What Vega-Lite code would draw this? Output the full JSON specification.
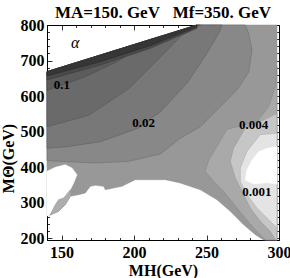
{
  "$schema": "https://vega.github.io/schema/vega-lite/v6.json",
  "width": 232,
  "height": 215,
  "autosize": {"type": "none"},
  "padding": {"left": 47, "top": 25, "right": 11, "bottom": 38},
  "background": "white",
  "title": {"text": "MA=150. GeV\u00a0\u00a0\u00a0Mf=350. GeV", "anchor": "middle", "offset": -5, "font": "Liberation Serif, Times New Roman, serif", "fontSize": 17, "fontWeight": "bold", "color": "black"},
  "datasets": {
    "poly": [
      {"b": "base", "i": 0, "x": 140, "y": 668.7}, {"b": "base", "i": 1, "x": 243.4, "y": 800}, {"b": "base", "i": 2, "x": 298.6, "y": 800}, {"b": "base", "i": 3, "x": 298.6, "y": 195}, {"b": "base", "i": 4, "x": 289.4, "y": 195}, {"b": "base", "i": 5, "x": 283.7, "y": 210.0}, {"b": "base", "i": 6, "x": 275.6, "y": 238.1}, {"b": "base", "i": 7, "x": 266.4, "y": 275.6}, {"b": "base", "i": 8, "x": 257.2, "y": 308.5}, {"b": "base", "i": 9, "x": 245.7, "y": 336.6}, {"b": "base", "i": 10, "x": 231.9, "y": 355.4}, {"b": "base", "i": 11, "x": 221.6, "y": 364.8}, {"b": "base", "i": 12, "x": 200.9, "y": 364.8}, {"b": "base", "i": 13, "x": 191.7, "y": 346.0}, {"b": "base", "i": 14, "x": 180.2, "y": 336.6}, {"b": "base", "i": 15, "x": 179.1, "y": 346.0}, {"b": "base", "i": 16, "x": 173.3, "y": 348.8}, {"b": "base", "i": 17, "x": 169.9, "y": 346.0}, {"b": "base", "i": 18, "x": 166.4, "y": 327.3}, {"b": "base", "i": 19, "x": 161.8, "y": 322.6}, {"b": "base", "i": 20, "x": 156.1, "y": 317.9}, {"b": "base", "i": 21, "x": 152.6, "y": 294.4}, {"b": "base", "i": 22, "x": 148.0, "y": 275.6}, {"b": "base", "i": 23, "x": 142.3, "y": 265.3}, {"b": "base", "i": 24, "x": 140, "y": 265},
      {"b": "notch", "i": 0, "x": 140, "y": 388.2}, {"b": "notch", "i": 1, "x": 145.7, "y": 399.5}, {"b": "notch", "i": 2, "x": 152.6, "y": 407.0}, {"b": "notch", "i": 3, "x": 157.2, "y": 397.6}, {"b": "notch", "i": 4, "x": 160.7, "y": 378.8}, {"b": "notch", "i": 5, "x": 158.4, "y": 355.4}, {"b": "notch", "i": 6, "x": 156.1, "y": 336.6}, {"b": "notch", "i": 7, "x": 151.5, "y": 313.2}, {"b": "notch", "i": 8, "x": 148.0, "y": 308.5}, {"b": "notch", "i": 9, "x": 145.7, "y": 294.4}, {"b": "notch", "i": 10, "x": 143.4, "y": 275.6}, {"b": "notch", "i": 11, "x": 142.3, "y": 268.2}, {"b": "notch", "i": 12, "x": 140, "y": 262},
      {"b": "patch", "i": 0, "x": 142.3, "y": 268.2}, {"b": "patch", "i": 1, "x": 143.4, "y": 275.6}, {"b": "patch", "i": 2, "x": 145.7, "y": 294.4}, {"b": "patch", "i": 3, "x": 148.0, "y": 308.5}, {"b": "patch", "i": 4, "x": 151.5, "y": 313.2}, {"b": "patch", "i": 5, "x": 156.1, "y": 336.6}, {"b": "patch", "i": 6, "x": 156.1, "y": 317.9}, {"b": "patch", "i": 7, "x": 152.6, "y": 294.4}, {"b": "patch", "i": 8, "x": 148.0, "y": 275.6}, {"b": "patch", "i": 9, "x": 142.3, "y": 265.3},
      {"b": "arcB", "i": 0, "x": 140, "y": 668.7}, {"b": "arcB", "i": 1, "x": 243.4, "y": 800}, {"b": "arcB", "i": 2, "x": 276.8, "y": 800}, {"b": "arcB", "i": 3, "x": 279.1, "y": 776.5}, {"b": "arcB", "i": 4, "x": 281.4, "y": 729.6}, {"b": "arcB", "i": 5, "x": 279.1, "y": 667.7}, {"b": "arcB", "i": 6, "x": 271.0, "y": 617.1}, {"b": "arcB", "i": 7, "x": 259.5, "y": 570.2}, {"b": "arcB", "i": 8, "x": 245.7, "y": 513.9}, {"b": "arcB", "i": 9, "x": 231.9, "y": 481.1}, {"b": "arcB", "i": 10, "x": 218.1, "y": 437.0}, {"b": "arcB", "i": 11, "x": 196.3, "y": 416.4}, {"b": "arcB", "i": 12, "x": 173.3, "y": 411.7}, {"b": "arcB", "i": 13, "x": 140, "y": 418.2},
      {"b": "arcA", "i": 0, "x": 140, "y": 668.7}, {"b": "arcA", "i": 1, "x": 243.4, "y": 800}, {"b": "arcA", "i": 2, "x": 260.7, "y": 800}, {"b": "arcA", "i": 3, "x": 258.4, "y": 776.5}, {"b": "arcA", "i": 4, "x": 250.3, "y": 720.3}, {"b": "arcA", "i": 5, "x": 236.5, "y": 635.9}, {"b": "arcA", "i": 6, "x": 218.1, "y": 555.2}, {"b": "arcA", "i": 7, "x": 206.6, "y": 523.3}, {"b": "arcA", "i": 8, "x": 203.2, "y": 510.2}, {"b": "arcA", "i": 9, "x": 176.8, "y": 471.7}, {"b": "arcA", "i": 10, "x": 153.8, "y": 457.6}, {"b": "arcA", "i": 11, "x": 140, "y": 452.9},
      {"b": "arcQ", "i": 0, "x": 140, "y": 668.7}, {"b": "arcQ", "i": 1, "x": 243.4, "y": 800}, {"b": "arcQ", "i": 2, "x": 245.7, "y": 800}, {"b": "arcQ", "i": 3, "x": 233.1, "y": 771.9}, {"b": "arcQ", "i": 4, "x": 217.0, "y": 705.3}, {"b": "arcQ", "i": 5, "x": 196.3, "y": 620.8}, {"b": "arcQ", "i": 6, "x": 168.7, "y": 545.8}, {"b": "arcQ", "i": 7, "x": 140, "y": 513.9},
      {"b": "arcP", "i": 0, "x": 140, "y": 668.7}, {"b": "arcP", "i": 1, "x": 215.8, "y": 765.0}, {"b": "arcP", "i": 2, "x": 204.4, "y": 739.0}, {"b": "arcP", "i": 3, "x": 188.3, "y": 696.8}, {"b": "arcP", "i": 4, "x": 165.3, "y": 652.7}, {"b": "arcP", "i": 5, "x": 140, "y": 616.2},
      {"b": "strip", "i": 0, "x": 140, "y": 668.7}, {"b": "strip", "i": 1, "x": 243.4, "y": 800}, {"b": "strip", "i": 2, "x": 243.4, "y": 790.6}, {"b": "strip", "i": 3, "x": 211.2, "y": 734.3}, {"b": "strip", "i": 4, "x": 176.8, "y": 687.4}, {"b": "strip", "i": 5, "x": 140, "y": 645.2},
      {"b": "strip2", "i": 0, "x": 140, "y": 668.7}, {"b": "strip2", "i": 1, "x": 243.4, "y": 800}, {"b": "strip2", "i": 2, "x": 243.4, "y": 795.3}, {"b": "strip2", "i": 3, "x": 211.2, "y": 741.8}, {"b": "strip2", "i": 4, "x": 176.8, "y": 696.8}, {"b": "strip2", "i": 5, "x": 140, "y": 656.5},
      {"b": "L1", "i": 0, "x": 298.6, "y": 682.8}, {"b": "L1", "i": 1, "x": 297.5, "y": 626.5}, {"b": "L1", "i": 2, "x": 292.9, "y": 570.2}, {"b": "L1", "i": 3, "x": 284.8, "y": 528.0}, {"b": "L1", "i": 4, "x": 273.3, "y": 515.8}, {"b": "L1", "i": 5, "x": 264.1, "y": 506.4}, {"b": "L1", "i": 6, "x": 257.2, "y": 457.6}, {"b": "L1", "i": 7, "x": 251.5, "y": 420.1}, {"b": "L1", "i": 8, "x": 249.2, "y": 388.2}, {"b": "L1", "i": 9, "x": 254.9, "y": 360.1}, {"b": "L1", "i": 10, "x": 261.8, "y": 332.0}, {"b": "L1", "i": 11, "x": 271.0, "y": 285.0}, {"b": "L1", "i": 12, "x": 282.5, "y": 228.8}, {"b": "L1", "i": 13, "x": 290.6, "y": 195}, {"b": "L1", "i": 14, "x": 298.6, "y": 195},
      {"b": "L2", "i": 0, "x": 298.6, "y": 551.4}, {"b": "L2", "i": 1, "x": 289.4, "y": 532.6}, {"b": "L2", "i": 2, "x": 276.8, "y": 510.2}, {"b": "L2", "i": 3, "x": 268.7, "y": 453.9}, {"b": "L2", "i": 4, "x": 266.4, "y": 416.4}, {"b": "L2", "i": 5, "x": 269.9, "y": 369.5}, {"b": "L2", "i": 6, "x": 275.6, "y": 322.6}, {"b": "L2", "i": 7, "x": 280.2, "y": 285.0}, {"b": "L2", "i": 8, "x": 287.1, "y": 247.5}, {"b": "L2", "i": 9, "x": 294.0, "y": 219.4}, {"b": "L2", "i": 10, "x": 297.5, "y": 195}, {"b": "L2", "i": 11, "x": 298.6, "y": 195},
      {"b": "L3", "i": 0, "x": 298.6, "y": 495.2}, {"b": "L3", "i": 1, "x": 287.1, "y": 491.4}, {"b": "L3", "i": 2, "x": 277.9, "y": 444.5}, {"b": "L3", "i": 3, "x": 273.3, "y": 397.6}, {"b": "L3", "i": 4, "x": 273.3, "y": 360.1}, {"b": "L3", "i": 5, "x": 277.9, "y": 322.6}, {"b": "L3", "i": 6, "x": 284.8, "y": 285.0}, {"b": "L3", "i": 7, "x": 291.7, "y": 257.0}, {"b": "L3", "i": 8, "x": 298.6, "y": 228.8},
      {"b": "hole", "i": 0, "x": 298.6, "y": 457.6}, {"b": "hole", "i": 1, "x": 291.7, "y": 452.9}, {"b": "hole", "i": 2, "x": 286.0, "y": 443.6}, {"b": "hole", "i": 3, "x": 281.4, "y": 420.1}, {"b": "hole", "i": 4, "x": 277.9, "y": 392.0}, {"b": "hole", "i": 5, "x": 276.8, "y": 363.8}, {"b": "hole", "i": 6, "x": 282.5, "y": 352.6}, {"b": "hole", "i": 7, "x": 291.7, "y": 356.3}, {"b": "hole", "i": 8, "x": 298.6, "y": 352.6}
    ],
    "labels": [
      {"x": 150.3, "y": 631.2, "t": "0.1"},
      {"x": 206.6, "y": 523.3, "t": "0.02"},
      {"x": 282.5, "y": 518.6, "t": "0.004"},
      {"x": 284.8, "y": 331.0, "t": "0.001"}
    ],
    "alpha": [{"x": 159.5, "y": 748.4, "t": "α"}]
  },
  "resolve": {"axis": {"x": "independent", "y": "independent"}},
  "layer": [
    {
      "data": {"name": "poly"},
      "transform": [{"filter": "datum.b == 'base'"}],
      "mark": {"type": "line", "interpolate": "linear-closed", "fill": "#989898", "stroke": "#909090", "strokeWidth": 0.5},
      "encoding": {
        "x": {"field": "x", "type": "quantitative", "scale": {"domain": [140, 300], "nice": false, "zero": false},
          "axis": {"orient": "bottom", "title": "MH(GeV)", "titlePadding": 2, "values": [140,150,160,170,180,190,200,210,220,230,240,250,260,270,280,290,300],
            "labelExpr": "datum.value % 50 === 0 ? datum.label : ''", "labelPadding": 9, "labelFlush": false,
            "tickSize": {"condition": {"test": "datum.value % 50 === 0", "value": -5}, "value": -2.5}}},
        "y": {"field": "y", "type": "quantitative", "scale": {"domain": [195, 800], "nice": false, "zero": false},
          "axis": {"orient": "left", "title": "MΘ(GeV)", "titleX": -31, "titleY": 133, "values": [200,220,240,260,280,300,320,340,360,380,400,420,440,460,480,500,520,540,560,580,600,620,640,660,680,700,720,740,760,780,800],
            "labelExpr": "datum.value % 100 === 0 ? datum.label : ''", "labelPadding": 8, "labelFlush": false,
            "tickSize": {"condition": {"test": "datum.value % 100 === 0", "value": -5}, "value": -2.5}}},
        "order": {"field": "i", "type": "quantitative"}
      }
    },
    {
      "data": {"name": "poly"},
      "transform": [{"filter": "datum.b == 'notch'"}],
      "mark": {"type": "line", "interpolate": "linear-closed", "fill": "white", "stroke": "white", "strokeWidth": 0.5},
      "encoding": {
        "x": {"field": "x", "type": "quantitative", "axis": {"orient": "top", "title": null, "labels": false, "domain": false, "values": [140,150,160,170,180,190,200,210,220,230,240,250,260,270,280,290,300],
            "tickSize": {"condition": {"test": "datum.value % 50 === 0", "value": -5}, "value": -2.5}}},
        "y": {"field": "y", "type": "quantitative", "axis": {"orient": "right", "title": null, "labels": false, "domain": false, "values": [200,220,240,260,280,300,320,340,360,380,400,420,440,460,480,500,520,540,560,580,600,620,640,660,680,700,720,740,760,780,800],
            "tickSize": {"condition": {"test": "datum.value % 100 === 0", "value": -5}, "value": -2.5}}},
        "order": {"field": "i", "type": "quantitative"}
      }
    },
    {
      "data": {"name": "poly"},
      "transform": [{"filter": "datum.b == 'patch'"}],
      "mark": {"type": "line", "interpolate": "linear-closed", "fill": "#adadad", "stroke": "#a0a0a0", "strokeWidth": 0.5},
      "encoding": {"x": {"field": "x", "type": "quantitative", "axis": null}, "y": {"field": "y", "type": "quantitative", "axis": null}, "order": {"field": "i", "type": "quantitative"}}
    },
    {
      "data": {"name": "poly"},
      "transform": [{"filter": "datum.b == 'arcB'"}],
      "mark": {"type": "line", "interpolate": "linear-closed", "fill": "#888888", "stroke": "#6e6e6e", "strokeWidth": 0.6},
      "encoding": {"x": {"field": "x", "type": "quantitative", "axis": null}, "y": {"field": "y", "type": "quantitative", "axis": null}, "order": {"field": "i", "type": "quantitative"}}
    },
    {
      "data": {"name": "poly"},
      "transform": [{"filter": "datum.b == 'arcA'"}],
      "mark": {"type": "line", "interpolate": "linear-closed", "fill": "#787878", "stroke": "#606060", "strokeWidth": 0.6},
      "encoding": {"x": {"field": "x", "type": "quantitative", "axis": null}, "y": {"field": "y", "type": "quantitative", "axis": null}, "order": {"field": "i", "type": "quantitative"}}
    },
    {
      "data": {"name": "poly"},
      "transform": [{"filter": "datum.b == 'arcQ'"}],
      "mark": {"type": "line", "interpolate": "linear-closed", "fill": "#6a6a6a", "stroke": "#555555", "strokeWidth": 0.6},
      "encoding": {"x": {"field": "x", "type": "quantitative", "axis": null}, "y": {"field": "y", "type": "quantitative", "axis": null}, "order": {"field": "i", "type": "quantitative"}}
    },
    {
      "data": {"name": "poly"},
      "transform": [{"filter": "datum.b == 'arcP'"}],
      "mark": {"type": "line", "interpolate": "linear-closed", "fill": "#5c5c5c", "stroke": "#4a4a4a", "strokeWidth": 0.6},
      "encoding": {"x": {"field": "x", "type": "quantitative", "axis": null}, "y": {"field": "y", "type": "quantitative", "axis": null}, "order": {"field": "i", "type": "quantitative"}}
    },
    {
      "data": {"name": "poly"},
      "transform": [{"filter": "datum.b == 'strip'"}],
      "mark": {"type": "line", "interpolate": "linear-closed", "fill": "#4a4a4a", "stroke": "#3a3a3a", "strokeWidth": 0.6},
      "encoding": {"x": {"field": "x", "type": "quantitative", "axis": null}, "y": {"field": "y", "type": "quantitative", "axis": null}, "order": {"field": "i", "type": "quantitative"}}
    },
    {
      "data": {"name": "poly"},
      "transform": [{"filter": "datum.b == 'strip2'"}],
      "mark": {"type": "line", "interpolate": "linear-closed", "fill": "#363636", "stroke": "#2a2a2a", "strokeWidth": 0.6},
      "encoding": {"x": {"field": "x", "type": "quantitative", "axis": null}, "y": {"field": "y", "type": "quantitative", "axis": null}, "order": {"field": "i", "type": "quantitative"}}
    },
    {
      "data": {"name": "poly"},
      "transform": [{"filter": "datum.b == 'L1'"}],
      "mark": {"type": "line", "interpolate": "linear-closed", "fill": "#a9a9a9", "stroke": "#8a8a8a", "strokeWidth": 0.6},
      "encoding": {"x": {"field": "x", "type": "quantitative", "axis": null}, "y": {"field": "y", "type": "quantitative", "axis": null}, "order": {"field": "i", "type": "quantitative"}}
    },
    {
      "data": {"name": "poly"},
      "transform": [{"filter": "datum.b == 'L2'"}],
      "mark": {"type": "line", "interpolate": "linear-closed", "fill": "#c6c6c6", "stroke": "#9a9a9a", "strokeWidth": 0.6},
      "encoding": {"x": {"field": "x", "type": "quantitative", "axis": null}, "y": {"field": "y", "type": "quantitative", "axis": null}, "order": {"field": "i", "type": "quantitative"}}
    },
    {
      "data": {"name": "poly"},
      "transform": [{"filter": "datum.b == 'L3'"}],
      "mark": {"type": "line", "interpolate": "linear-closed", "fill": "#e4e4e4", "stroke": "#b0b0b0", "strokeWidth": 0.6},
      "encoding": {"x": {"field": "x", "type": "quantitative", "axis": null}, "y": {"field": "y", "type": "quantitative", "axis": null}, "order": {"field": "i", "type": "quantitative"}}
    },
    {
      "data": {"name": "poly"},
      "transform": [{"filter": "datum.b == 'hole'"}],
      "mark": {"type": "line", "interpolate": "linear-closed", "fill": "white", "stroke": "white", "strokeWidth": 0.5},
      "encoding": {"x": {"field": "x", "type": "quantitative", "axis": null}, "y": {"field": "y", "type": "quantitative", "axis": null}, "order": {"field": "i", "type": "quantitative"}}
    },
    {
      "data": {"name": "labels"},
      "mark": {"type": "text", "font": "Liberation Serif, Times New Roman, serif", "fontWeight": "bold", "fontSize": 13, "color": "black", "align": "center", "baseline": "middle"},
      "encoding": {"x": {"field": "x", "type": "quantitative", "axis": null}, "y": {"field": "y", "type": "quantitative", "axis": null}, "text": {"field": "t"}}
    },
    {
      "data": {"name": "alpha"},
      "mark": {"type": "text", "font": "Liberation Serif, Times New Roman, serif", "fontStyle": "italic", "fontSize": 16, "color": "black", "align": "center", "baseline": "middle"},
      "encoding": {"x": {"field": "x", "type": "quantitative", "axis": null}, "y": {"field": "y", "type": "quantitative", "axis": null}, "text": {"field": "t"}}
    }
  ],
  "config": {
    "view": {"stroke": "black", "strokeWidth": 1},
    "axis": {"domainColor": "black", "domainWidth": 1, "tickColor": "black", "tickWidth": 0.8, "grid": false,
      "labelFont": "Liberation Serif, Times New Roman, serif", "labelFontWeight": "bold", "labelFontSize": 16, "labelColor": "black",
      "titleFont": "Liberation Serif, Times New Roman, serif", "titleFontWeight": "bold", "titleFontSize": 16, "titleColor": "black"}
  }
}
